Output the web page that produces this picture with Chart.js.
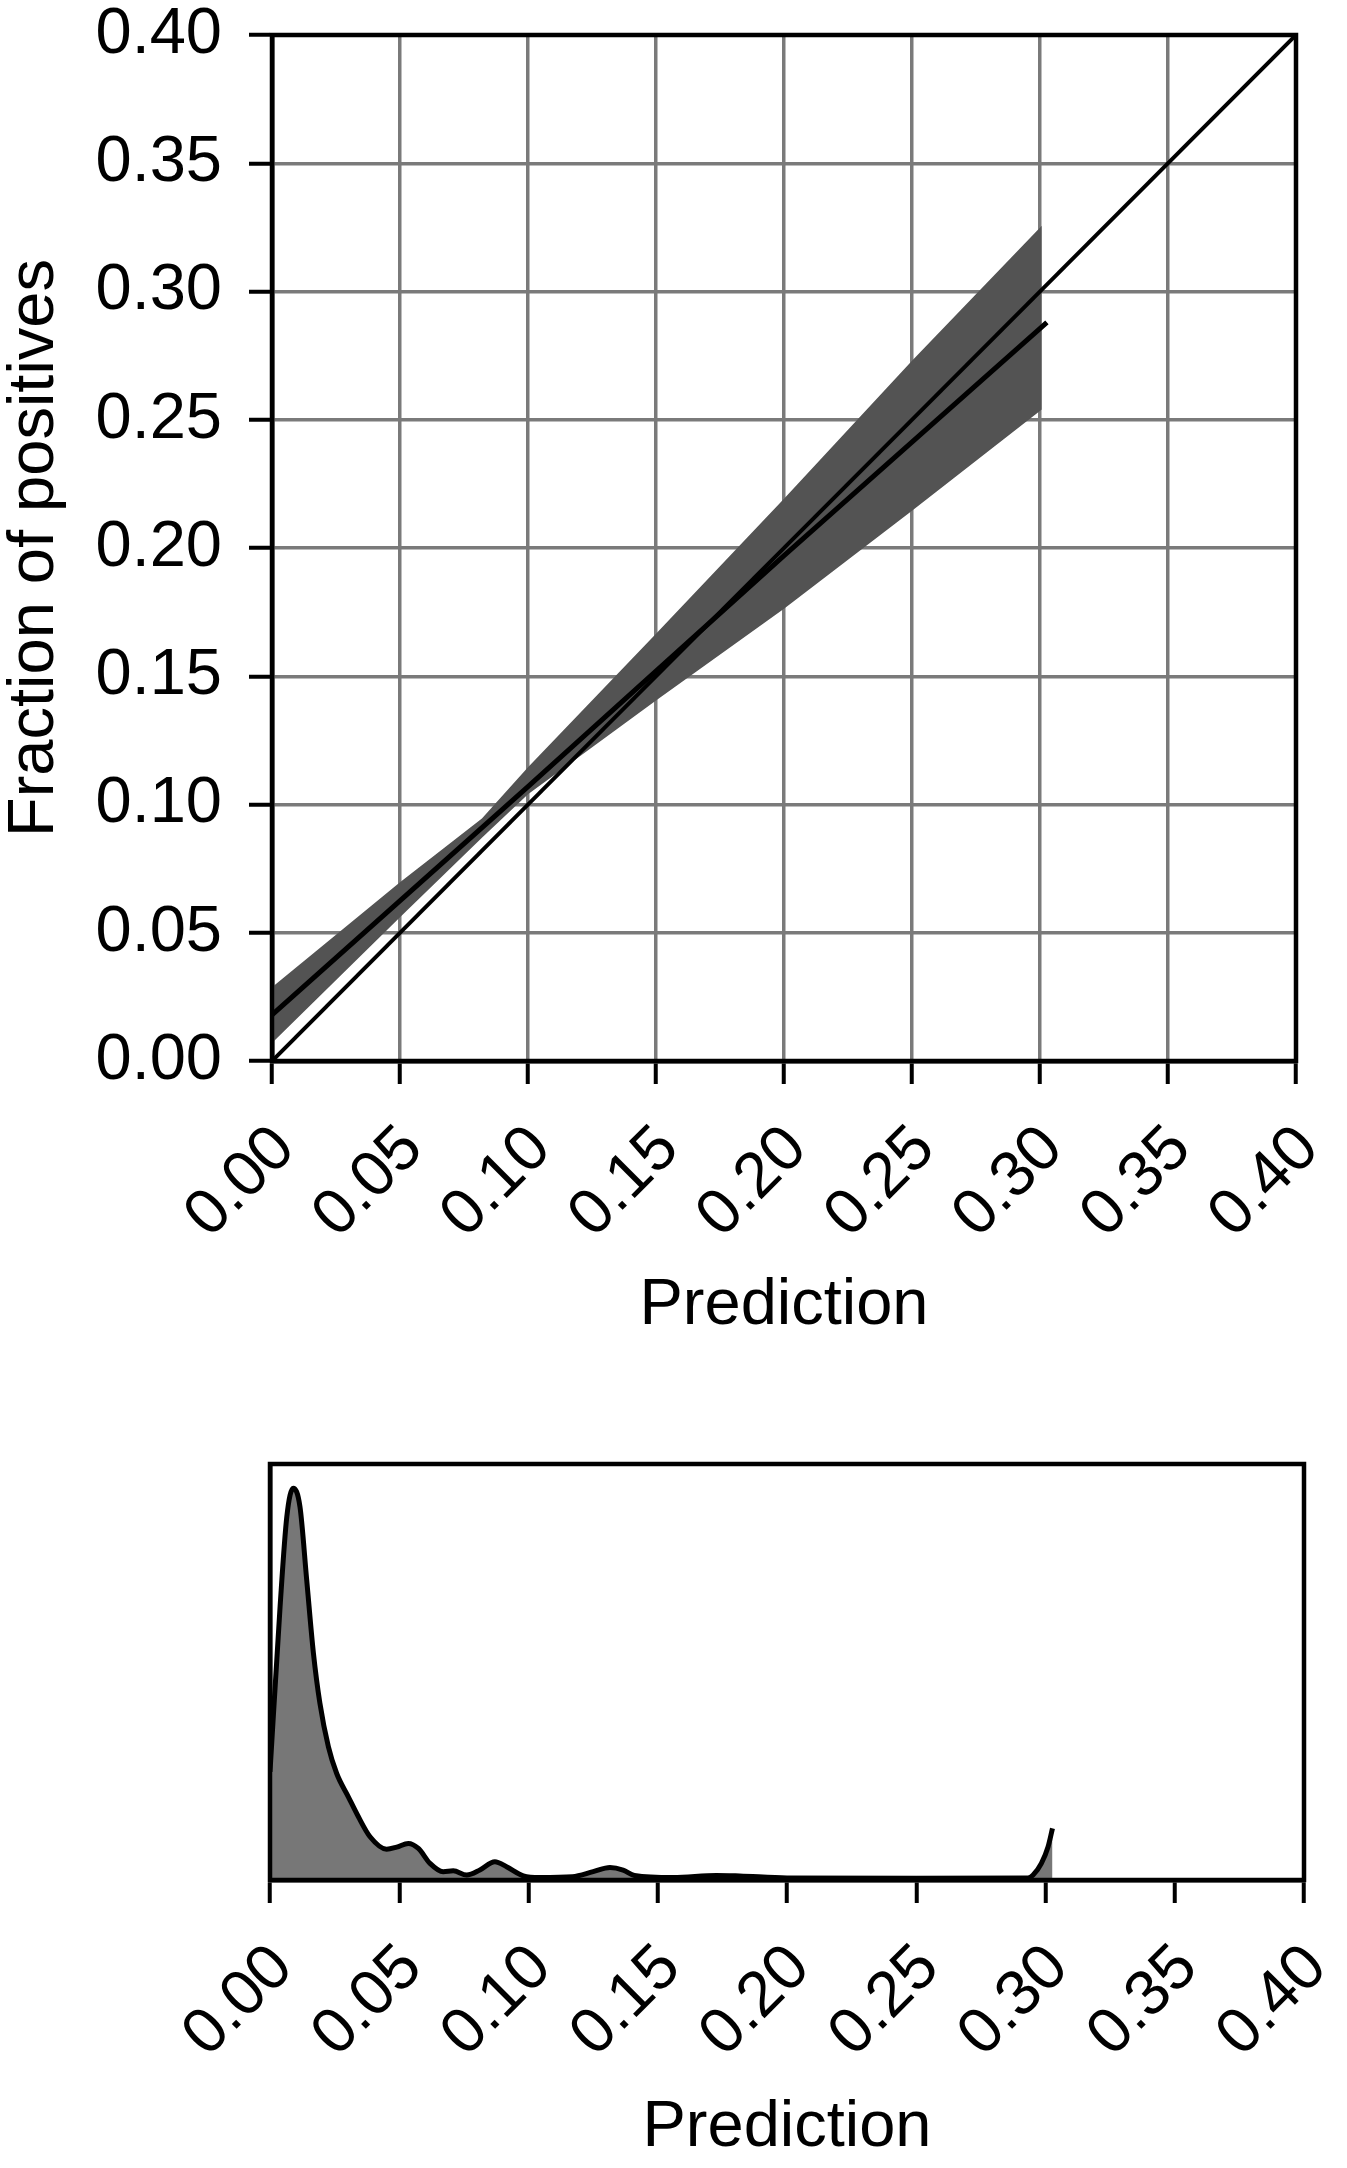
<!DOCTYPE html>
<html>
<head>
<meta charset="utf-8">
<script src="https://cdn.jsdelivr.net/npm/chart.js@4/dist/chart.umd.min.js"></script>
<style>
  body { margin: 0; background: #fff; }
  canvas { position: absolute; left: 0; }
  #calib { top: 0; }
  #density { top: 1400px; }
</style>
</head>
<body>
<canvas id="calib" width="1347" height="1400"></canvas>
<canvas id="density" width="1347" height="768"></canvas>
<script>
// calibration curve: confidence band, fitted line and the ideal diagonal
const bandX = [0, 0.05, 0.082, 0.10, 0.15, 0.20, 0.25, 0.3007];
const bandUpper = [0.0288, 0.0697, 0.0945, 0.1145, 0.1666, 0.2192, 0.273, 0.3256];
const bandLower = [0.007, 0.056, 0.087, 0.104, 0.1405, 0.1763, 0.2145, 0.254];

const fitX = [0, 0.1, 0.2, 0.3027];
const fitY = [0.018, 0.107, 0.197, 0.288];

const diagX = [0, 0.4];
const diagY = [0, 0.4];

// distribution of predictions (relative density)
const densX = [0, 0.0039, 0.0065, 0.009, 0.0116, 0.0142, 0.0168, 0.0193, 0.0226, 0.0258, 0.0303,
  0.0342, 0.0387, 0.0451, 0.049, 0.0535, 0.0574, 0.0619, 0.067, 0.0709, 0.0761, 0.0812, 0.087,
  0.0915, 0.098, 0.1044, 0.117, 0.125, 0.1315, 0.1366, 0.141, 0.156, 0.1727, 0.1817, 0.2, 0.25,
  0.2932, 0.2952, 0.2984, 0.301, 0.3027];
const densY = [0.26, 0.657, 0.873, 0.942, 0.897, 0.721, 0.545, 0.425, 0.32, 0.256, 0.2,
  0.152, 0.104, 0.074, 0.079, 0.088, 0.076, 0.04, 0.02, 0.022, 0.012, 0.024, 0.044,
  0.032, 0.01, 0.006, 0.008, 0.02, 0.03, 0.024, 0.011, 0.006, 0.011, 0.0096, 0.005, 0.004,
  0.005, 0.012, 0.04, 0.08, 0.124];

const axisMin = 0;
const axisMax = 0.4;
const axisStep = 0.05;

Chart.defaults.font.family = '"Liberation Sans", Arial, Helvetica, sans-serif';
Chart.defaults.color = '#000';

const pts = (xs, ys) => xs.map((x, i) => ({ x: x, y: ys[i] }));
const fmt = v => Number(v).toFixed(2);

// black box round the plot area
const frame = {
  id: 'frame',
  afterDatasetsDraw(chart) {
    const a = chart.chartArea;
    const ctx = chart.ctx;
    ctx.save();
    ctx.strokeStyle = '#000';
    ctx.lineWidth = 4.5;
    ctx.strokeRect(a.left, a.top, a.right - a.left, a.bottom - a.top);
    ctx.restore();
  }
};

const tickFont = { size: 64, lineHeight: 1 };
const titleFont = { size: 65, lineHeight: 1 };

function xAxis(gridOnArea, titlePad, height) {
  return {
    type: 'linear',
    min: axisMin,
    max: axisMax,
    grid: {
      drawOnChartArea: gridOnArea,
      color: '#7a7a7a',
      lineWidth: 3.5,
      tickLength: 23,
      tickColor: '#000',
      tickWidth: 4
    },
    border: { color: '#000', width: 4.5 },
    ticks: {
      stepSize: axisStep,
      autoSkip: false,
      minRotation: 45,
      maxRotation: 45,
      padding: 32,
      labelOffset: 13,
      font: tickFont,
      color: '#000',
      callback: fmt
    },
    title: { display: true, text: 'Prediction', font: titleFont, color: '#000', padding: { top: 0, bottom: titlePad } },
    afterFit: s => { s.height = height; s.paddingLeft = 0; s.paddingRight = 0; }
  };
}

new Chart(document.getElementById('calib'), {
  type: 'line',
  data: {
    datasets: [
      { data: pts(fitX, fitY), borderColor: '#000', borderWidth: 5, pointRadius: 0, fill: false },
      { data: pts(diagX, diagY), borderColor: '#000', borderWidth: 4, pointRadius: 0, fill: false },
      { data: pts(bandX, bandUpper), borderWidth: 0, borderColor: 'rgba(0,0,0,0)', pointRadius: 0,
        backgroundColor: '#535353', fill: '+1' },
      { data: pts(bandX, bandLower), borderWidth: 0, borderColor: 'rgba(0,0,0,0)', pointRadius: 0, fill: false }
    ]
  },
  options: {
    responsive: false,
    animation: false,
    parsing: false,
    layout: { padding: { top: 35, right: 51, left: 0, bottom: 0 } },
    plugins: { legend: { display: false }, tooltip: { enabled: false } },
    scales: {
      x: xAxis(true, 61, 339),
      y: {
        type: 'linear',
        min: axisMin,
        max: axisMax,
        grid: { color: '#7a7a7a', lineWidth: 3.5, tickLength: 23, tickColor: '#000', tickWidth: 4 },
        border: { color: '#000', width: 4.5 },
        ticks: { stepSize: axisStep, padding: 27, font: { size: 65, lineHeight: 1 }, color: '#000', callback: fmt },
        title: { display: true, text: 'Fraction of positives', font: titleFont, color: '#000', padding: { top: 3, bottom: 0 } },
        afterFit: s => { s.width = 272; s.paddingTop = 0; s.paddingBottom = 0; }
      }
    }
  },
  plugins: [frame]
});

new Chart(document.getElementById('density'), {
  type: 'line',
  data: {
    datasets: [
      { data: pts(densX, densY), borderColor: '#000', borderWidth: 5, pointRadius: 0,
        backgroundColor: '#777777', fill: 'origin', cubicInterpolationMode: 'monotone' }
    ]
  },
  options: {
    responsive: false,
    animation: false,
    parsing: false,
    layout: { padding: { top: 64, right: 43, left: 0, bottom: 0 } },
    plugins: { legend: { display: false }, tooltip: { enabled: false } },
    scales: {
      x: xAxis(false, 7, 288),
      y: {
        type: 'linear',
        min: 0,
        max: 1,
        grid: { display: false },
        border: { color: '#000', width: 4.5 },
        ticks: { display: false },
        afterFit: s => { s.width = 270; s.paddingTop = 0; s.paddingBottom = 0; }
      }
    }
  },
  plugins: [frame]
});
</script>
</body>
</html>
